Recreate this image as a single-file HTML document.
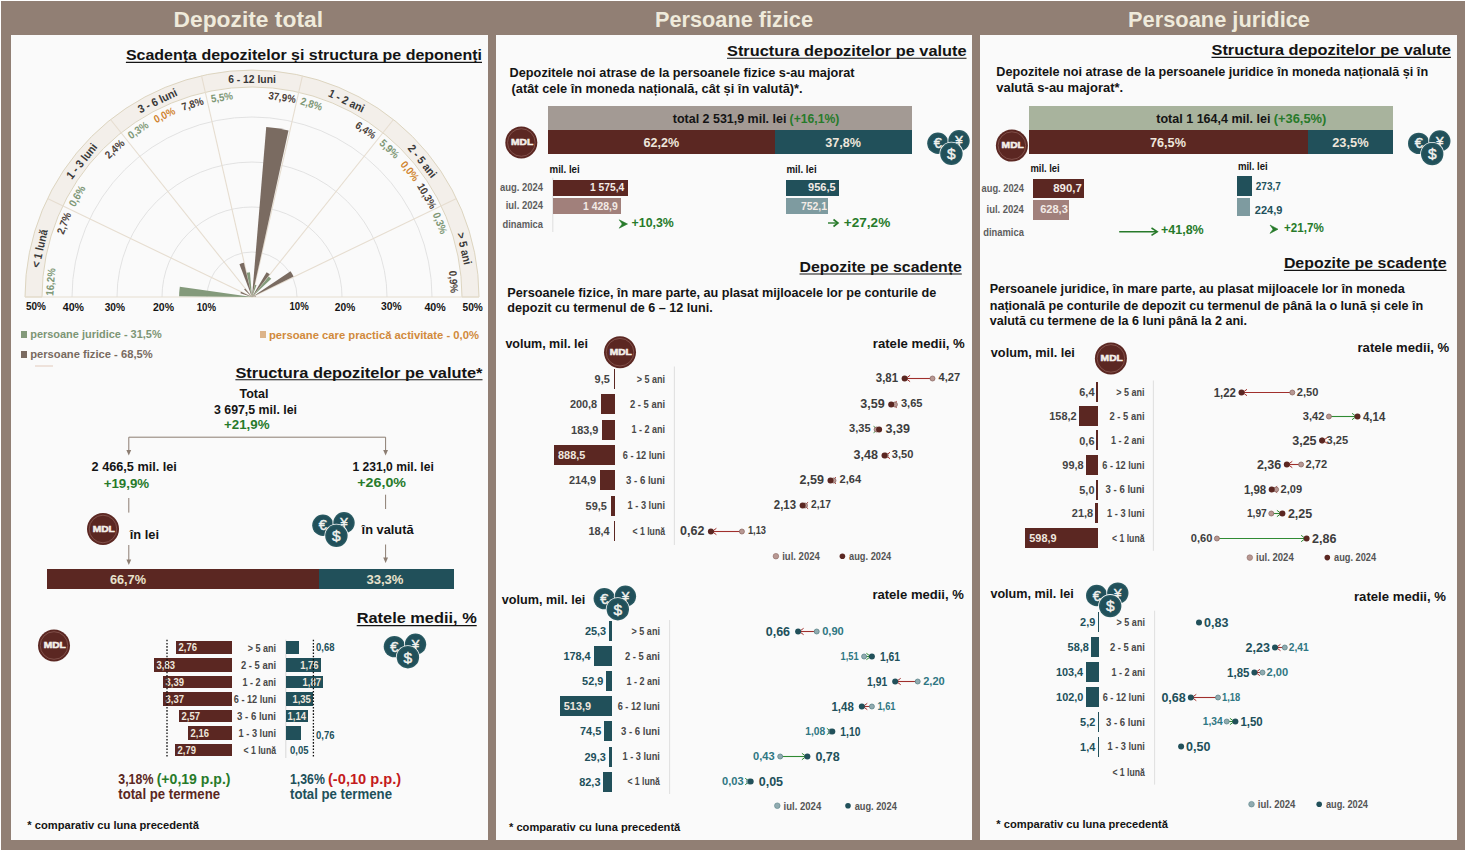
<!DOCTYPE html>
<html><head><meta charset="utf-8"><title>Depozite</title>
<style>html,body{margin:0;padding:0;background:#fff;width:1467px;height:852px;overflow:hidden}svg{display:block}</style>
</head><body>
<svg width="1467" height="852" viewBox="0 0 1467 852" style="font-family:&quot;Liberation Sans&quot;, sans-serif; font-weight:bold">
<rect x="0" y="0" width="1467" height="852" fill="#ffffff" />
<rect x="1" y="1" width="1464" height="849" fill="#917f74" />
<rect x="11" y="35" width="477" height="805" fill="#fafafa" />
<rect x="496" y="35" width="476" height="805" fill="#fafafa" />
<rect x="980" y="35" width="477" height="805" fill="#fafafa" />
<text x="173.5" y="26.7" font-size="22" fill="#efeadb" textLength="149.5" lengthAdjust="spacingAndGlyphs" >Depozite total</text>
<text x="655.0" y="26.7" font-size="22" fill="#efeadb" textLength="158.0" lengthAdjust="spacingAndGlyphs" >Persoane fizice</text>
<text x="1128.0" y="26.7" font-size="22" fill="#efeadb" textLength="182.0" lengthAdjust="spacingAndGlyphs" >Persoane juridice</text>
<text x="125.9" y="60.2" font-size="15.5" fill="#141414" textLength="356.1" lengthAdjust="spacingAndGlyphs" >Scadența depozitelor și structura pe deponenți</text>
<line x1="125.9" y1="62.4" x2="482.0" y2="62.4" stroke="#141414" stroke-width="1.1" />
<path d="M25.0,297.0 A227.0,227.0 0 0 1 479.0,297.0 L462.0,297.0 A210.0,210.0 0 0 0 42.0,297.0 Z" fill="#f3efea" stroke="#ddd5c0" stroke-width="1"/>
<path d="M207.0,297.0 A45,45 0 0 1 297.0,297.0" fill="none" stroke="#dcdcdc" stroke-width="0.8"/>
<path d="M162.0,297.0 A90,90 0 0 1 342.0,297.0" fill="none" stroke="#dcdcdc" stroke-width="0.8"/>
<path d="M117.0,297.0 A135,135 0 0 1 387.0,297.0" fill="none" stroke="#dcdcdc" stroke-width="0.8"/>
<path d="M72.0,297.0 A180,180 0 0 1 432.0,297.0" fill="none" stroke="#dcdcdc" stroke-width="0.8"/>
<line x1="252.0" y1="297.0" x2="47.5" y2="198.5" stroke="#e6ddd0" stroke-width="1.1" />
<line x1="252.0" y1="297.0" x2="110.5" y2="119.5" stroke="#e6ddd0" stroke-width="1.1" />
<line x1="252.0" y1="297.0" x2="201.5" y2="75.7" stroke="#e6ddd0" stroke-width="1.1" />
<line x1="252.0" y1="297.0" x2="302.5" y2="75.7" stroke="#e6ddd0" stroke-width="1.1" />
<line x1="252.0" y1="297.0" x2="393.5" y2="119.5" stroke="#e6ddd0" stroke-width="1.1" />
<line x1="252.0" y1="297.0" x2="456.5" y2="198.5" stroke="#e6ddd0" stroke-width="1.1" />
<line x1="25.0" y1="297.0" x2="479.0" y2="297.0" stroke="#e6ddd0" stroke-width="1.1" />
<path d="M252.0,297.0 L179.10,296.36 A72.90,72.90 0 0 1 179.82,286.76 Z" fill="#849a7b"/>
<path d="M252.0,297.0 L240.42,293.32 A12.15,12.15 0 0 1 241.01,291.82 Z" fill="#7a6b61"/>
<path d="M252.0,297.0 L249.58,295.81 A2.70,2.70 0 0 1 249.76,295.50 Z" fill="#849a7b"/>
<path d="M252.0,297.0 L244.15,289.59 A10.80,10.80 0 0 1 245.19,288.62 Z" fill="#7a6b61"/>
<path d="M252.0,297.0 L251.17,295.94 A1.35,1.35 0 0 1 251.31,295.84 Z" fill="#849a7b"/>
<path d="M252.0,297.0 L239.46,264.22 A35.10,35.10 0 0 1 243.89,262.85 Z" fill="#7a6b61"/>
<path d="M252.0,297.0 L246.70,272.82 A24.75,24.75 0 0 1 249.94,272.34 Z" fill="#849a7b"/>
<path d="M252.0,297.0 L266.23,127.04 A170.55,170.55 0 0 1 288.50,130.40 Z" fill="#7a6b61"/>
<path d="M252.0,297.0 L254.91,284.74 A12.60,12.60 0 0 1 256.50,285.23 Z" fill="#849a7b"/>
<path d="M252.0,297.0 L266.62,272.19 A28.80,28.80 0 0 1 269.76,274.33 Z" fill="#7a6b61"/>
<path d="M252.0,297.0 L268.73,276.39 A26.55,26.55 0 0 1 271.30,278.77 Z" fill="#849a7b"/>
<path d="M252.0,297.0 L290.52,271.23 A46.35,46.35 0 0 1 293.58,276.53 Z" fill="#7a6b61"/>
<path d="M252.0,297.0 L253.22,296.42 A1.35,1.35 0 0 1 253.29,296.59 Z" fill="#849a7b"/>
<path d="M252.0,297.0 L256.01,296.43 A4.05,4.05 0 0 1 256.05,296.96 Z" fill="#7a6b61"/>
<g transform="translate(50.6,281.9) rotate(-85.7)">
<text x="0.0" y="3.7" font-size="10.8" fill="#7f9877" text-anchor="middle" textLength="27.6" lengthAdjust="spacingAndGlyphs" >16,2%</text>
</g>
<g transform="translate(64.0,223.2) rotate(-68.6)">
<text x="0.0" y="3.7" font-size="10.8" fill="#4a4038" text-anchor="middle" textLength="22.2" lengthAdjust="spacingAndGlyphs" >2,7%</text>
</g>
<g transform="translate(77.1,196.0) rotate(-60.0)">
<text x="0.0" y="3.7" font-size="10.8" fill="#7f9877" text-anchor="middle" textLength="22.2" lengthAdjust="spacingAndGlyphs" >0,6%</text>
</g>
<g transform="translate(114.6,148.9) rotate(-42.9)">
<text x="0.0" y="3.7" font-size="10.8" fill="#4a4038" text-anchor="middle" textLength="22.2" lengthAdjust="spacingAndGlyphs" >2,4%</text>
</g>
<g transform="translate(138.2,130.1) rotate(-34.3)">
<text x="0.0" y="3.7" font-size="10.8" fill="#7f9877" text-anchor="middle" textLength="22.2" lengthAdjust="spacingAndGlyphs" >0,3%</text>
</g>
<g transform="translate(164.4,115.0) rotate(-25.7)">
<text x="0.0" y="3.7" font-size="10.8" fill="#d0842f" text-anchor="middle" textLength="22.2" lengthAdjust="spacingAndGlyphs" >0,0%</text>
</g>
<g transform="translate(192.5,104.0) rotate(-17.1)">
<text x="0.0" y="3.7" font-size="10.8" fill="#4a4038" text-anchor="middle" textLength="22.2" lengthAdjust="spacingAndGlyphs" >7,8%</text>
</g>
<g transform="translate(221.9,97.3) rotate(-8.6)">
<text x="0.0" y="3.7" font-size="10.8" fill="#7f9877" text-anchor="middle" textLength="22.2" lengthAdjust="spacingAndGlyphs" >5,5%</text>
</g>
<g transform="translate(282.1,97.3) rotate(8.6)">
<text x="0.0" y="3.7" font-size="10.8" fill="#4a4038" text-anchor="middle" textLength="27.6" lengthAdjust="spacingAndGlyphs" >37,9%</text>
</g>
<g transform="translate(311.5,104.0) rotate(17.1)">
<text x="0.0" y="3.7" font-size="10.8" fill="#7f9877" text-anchor="middle" textLength="22.2" lengthAdjust="spacingAndGlyphs" >2,8%</text>
</g>
<g transform="translate(365.8,130.1) rotate(34.3)">
<text x="0.0" y="3.7" font-size="10.8" fill="#4a4038" text-anchor="middle" textLength="22.2" lengthAdjust="spacingAndGlyphs" >6,4%</text>
</g>
<g transform="translate(389.4,148.9) rotate(42.9)">
<text x="0.0" y="3.7" font-size="10.8" fill="#7f9877" text-anchor="middle" textLength="22.2" lengthAdjust="spacingAndGlyphs" >5,9%</text>
</g>
<g transform="translate(409.9,171.1) rotate(51.4)">
<text x="0.0" y="3.7" font-size="10.8" fill="#d0842f" text-anchor="middle" textLength="22.2" lengthAdjust="spacingAndGlyphs" >0,0%</text>
</g>
<g transform="translate(426.9,196.0) rotate(60.0)">
<text x="0.0" y="3.7" font-size="10.8" fill="#4a4038" text-anchor="middle" textLength="27.6" lengthAdjust="spacingAndGlyphs" >10,3%</text>
</g>
<g transform="translate(440.0,223.2) rotate(68.6)">
<text x="0.0" y="3.7" font-size="10.8" fill="#7f9877" text-anchor="middle" textLength="22.2" lengthAdjust="spacingAndGlyphs" >0,3%</text>
</g>
<g transform="translate(453.4,281.9) rotate(85.7)">
<text x="0.0" y="3.7" font-size="10.8" fill="#4a4038" text-anchor="middle" textLength="22.2" lengthAdjust="spacingAndGlyphs" >0,9%</text>
</g>
<g transform="translate(39.5,248.5) rotate(-77.1)">
<text x="0.0" y="4.1" font-size="11.5" fill="#383838" text-anchor="middle" textLength="38.8" lengthAdjust="spacingAndGlyphs" >&lt; 1 lună</text>
</g>
<g transform="translate(81.6,161.1) rotate(-51.4)">
<text x="0.0" y="4.1" font-size="11.5" fill="#383838" text-anchor="middle" textLength="42.0" lengthAdjust="spacingAndGlyphs" >1 - 3 luni</text>
</g>
<g transform="translate(157.4,100.6) rotate(-25.7)">
<text x="0.0" y="4.1" font-size="11.5" fill="#383838" text-anchor="middle" textLength="42.0" lengthAdjust="spacingAndGlyphs" >3 - 6 luni</text>
</g>
<g transform="translate(252.0,79.0) rotate(0.0)">
<text x="0.0" y="4.1" font-size="11.5" fill="#383838" text-anchor="middle" textLength="47.7" lengthAdjust="spacingAndGlyphs" >6 - 12 luni</text>
</g>
<g transform="translate(346.6,100.6) rotate(25.7)">
<text x="0.0" y="4.1" font-size="11.5" fill="#383838" text-anchor="middle" textLength="38.5" lengthAdjust="spacingAndGlyphs" >1 - 2 ani</text>
</g>
<g transform="translate(422.4,161.1) rotate(51.4)">
<text x="0.0" y="4.1" font-size="11.5" fill="#383838" text-anchor="middle" textLength="38.5" lengthAdjust="spacingAndGlyphs" >2 - 5 ani</text>
</g>
<g transform="translate(464.5,248.5) rotate(77.1)">
<text x="0.0" y="4.1" font-size="11.5" fill="#383838" text-anchor="middle" textLength="32.5" lengthAdjust="spacingAndGlyphs" >&gt; 5 ani</text>
</g>
<text x="26.0" y="310.0" font-size="10" fill="#141414" textLength="20.0" lengthAdjust="spacingAndGlyphs" >50%</text>
<text x="62.8" y="310.8" font-size="10" fill="#141414" textLength="21.2" lengthAdjust="spacingAndGlyphs" >40%</text>
<text x="104.7" y="310.8" font-size="10" fill="#141414" textLength="20.3" lengthAdjust="spacingAndGlyphs" >30%</text>
<text x="153.0" y="310.8" font-size="10" fill="#141414" textLength="21.0" lengthAdjust="spacingAndGlyphs" >20%</text>
<text x="196.7" y="310.8" font-size="10" fill="#141414" textLength="19.3" lengthAdjust="spacingAndGlyphs" >10%</text>
<text x="289.5" y="309.8" font-size="10" fill="#141414" textLength="19.2" lengthAdjust="spacingAndGlyphs" >10%</text>
<text x="334.8" y="310.8" font-size="10" fill="#141414" textLength="20.4" lengthAdjust="spacingAndGlyphs" >20%</text>
<text x="381.0" y="309.8" font-size="10" fill="#141414" textLength="20.6" lengthAdjust="spacingAndGlyphs" >30%</text>
<text x="424.4" y="310.8" font-size="10" fill="#141414" textLength="21.3" lengthAdjust="spacingAndGlyphs" >40%</text>
<text x="462.6" y="310.8" font-size="10" fill="#141414" textLength="20.3" lengthAdjust="spacingAndGlyphs" >50%</text>
<rect x="21" y="331" width="6" height="7" fill="#849a7b" />
<text x="30.2" y="337.7" font-size="11" fill="#7d9575" textLength="131.5" lengthAdjust="spacingAndGlyphs" >persoane juridice - 31,5%</text>
<rect x="260" y="331" width="6" height="7" fill="#dcb48a" />
<text x="269.0" y="338.5" font-size="11" fill="#d18a3c" textLength="210.0" lengthAdjust="spacingAndGlyphs" >persoane care practică activitate - 0,0%</text>
<rect x="21" y="351" width="6" height="7" fill="#7a6b61" />
<text x="30.2" y="357.7" font-size="11" fill="#786a60" textLength="122.5" lengthAdjust="spacingAndGlyphs" >persoane fizice - 68,5%</text>
<text x="235.4" y="377.6" font-size="15.5" fill="#141414" textLength="247.1" lengthAdjust="spacingAndGlyphs" >Structura depozitelor pe valute*</text>
<line x1="235.4" y1="379.8" x2="482.5" y2="379.8" stroke="#141414" stroke-width="1.1" />
<text x="254.0" y="398.0" font-size="12.5" fill="#141414" text-anchor="middle" >Total</text>
<text x="214.0" y="414.0" font-size="12.5" fill="#141414" textLength="83.0" lengthAdjust="spacingAndGlyphs" >3 697,5 mil. lei</text>
<text x="224.0" y="428.7" font-size="13" fill="#277a2a" textLength="45.5" lengthAdjust="spacingAndGlyphs" >+21,9%</text>
<path d="M128.8,451 V437.2 H385.6 V451" fill="none" stroke="#8c7d72" stroke-width="1"/>
<path d="M126.4,450 L128.8,455.5 L131.20000000000002,450 Z" fill="#8c7d72"/>
<path d="M383.20000000000005,450 L385.6,455.5 L388.0,450 Z" fill="#8c7d72"/>
<text x="91.6" y="471.0" font-size="12.5" fill="#141414" textLength="85.3" lengthAdjust="spacingAndGlyphs" >2 466,5 mil. lei</text>
<text x="103.7" y="488.0" font-size="13" fill="#277a2a" textLength="45.5" lengthAdjust="spacingAndGlyphs" >+19,9%</text>
<text x="352.5" y="470.6" font-size="12.5" fill="#141414" textLength="81.3" lengthAdjust="spacingAndGlyphs" >1 231,0 mil. lei</text>
<text x="357.3" y="486.6" font-size="13" fill="#277a2a" textLength="48.7" lengthAdjust="spacingAndGlyphs" >+26,0%</text>
<line x1="128.8" y1="498.0" x2="128.8" y2="512.6" stroke="#8c7d72" stroke-width="1" />
<line x1="385.6" y1="494.7" x2="385.6" y2="509.0" stroke="#8c7d72" stroke-width="1" />
<circle cx="103" cy="529" r="16" fill="#5b2722"/>
<circle cx="103" cy="529" r="13.8" fill="none" stroke="#8a5a54" stroke-width="0.8"/>
<text x="103.8" y="531.6" font-size="9.8" fill="#f4f0ea" text-anchor="middle" textLength="22.2" lengthAdjust="spacingAndGlyphs" stroke="#f4f0ea" stroke-width="0.55">MDL</text>
<text x="129.7" y="538.6" font-size="12.5" fill="#141414" textLength="29.3" lengthAdjust="spacingAndGlyphs" >în lei</text>
<circle cx="322.9" cy="525.2" r="11.5" fill="#fafafa"/>
<circle cx="322.9" cy="525.2" r="10.7" fill="#2a5a62"/>
<circle cx="322.9" cy="525.2" r="9.4" fill="#21505a"/>
<text x="322.9" y="530.2" font-size="14.5" fill="#f2f2ee" text-anchor="middle" font-weight="normal" stroke="#f2f2ee" stroke-width="0.45">€</text>
<circle cx="344.0" cy="522.8" r="11.5" fill="#fafafa"/>
<circle cx="344.0" cy="522.8" r="10.7" fill="#2a5a62"/>
<circle cx="344.0" cy="522.8" r="9.4" fill="#21505a"/>
<text x="344.0" y="527.4" font-size="13.5" fill="#f2f2ee" text-anchor="middle" font-weight="normal" stroke="#f2f2ee" stroke-width="0.45">¥</text>
<circle cx="336.4" cy="535.8" r="12.0" fill="#fafafa"/>
<circle cx="336.4" cy="535.8" r="11.2" fill="#2a5a62"/>
<circle cx="336.4" cy="535.8" r="9.9" fill="#21505a"/>
<text x="336.4" y="541.1" font-size="15.5" fill="#f2f2ee" text-anchor="middle" font-weight="normal" stroke="#f2f2ee" stroke-width="0.45">$</text>
<text x="361.6" y="533.7" font-size="12.5" fill="#141414" textLength="52.0" lengthAdjust="spacingAndGlyphs" >în valută</text>
<line x1="128.8" y1="545.0" x2="128.8" y2="561.0" stroke="#8c7d72" stroke-width="1" />
<path d="M126.4,559.5 L128.8,565.0 L131.2,559.5 Z" fill="#8c7d72"/>
<line x1="385.6" y1="544.5" x2="385.6" y2="559.0" stroke="#8c7d72" stroke-width="1" />
<path d="M383.2,557.5 L385.6,563.0 L388.0,557.5 Z" fill="#8c7d72"/>
<rect x="47" y="569" width="272" height="20" fill="#5b2722" />
<rect x="319" y="569" width="135" height="20" fill="#21505a" />
<text x="109.9" y="584.0" font-size="12.5" fill="#e9e2cc" textLength="36.1" lengthAdjust="spacingAndGlyphs" >66,7%</text>
<text x="366.4" y="584.0" font-size="12.5" fill="#e9e2cc" textLength="37.1" lengthAdjust="spacingAndGlyphs" >33,3%</text>
<text x="356.7" y="623.4" font-size="15.5" fill="#141414" textLength="120.0" lengthAdjust="spacingAndGlyphs" >Ratele medii, %</text>
<line x1="356.7" y1="625.6" x2="476.7" y2="625.6" stroke="#141414" stroke-width="1.1" />
<circle cx="54" cy="645.5" r="16" fill="#5b2722"/>
<circle cx="54" cy="645.5" r="13.8" fill="none" stroke="#8a5a54" stroke-width="0.8"/>
<text x="54.8" y="648.1" font-size="9.8" fill="#f4f0ea" text-anchor="middle" textLength="22.2" lengthAdjust="spacingAndGlyphs" stroke="#f4f0ea" stroke-width="0.55">MDL</text>
<circle cx="394.4" cy="646.6" r="11.5" fill="#fafafa"/>
<circle cx="394.4" cy="646.6" r="10.7" fill="#2a5a62"/>
<circle cx="394.4" cy="646.6" r="9.4" fill="#21505a"/>
<text x="394.4" y="651.6" font-size="14.5" fill="#f2f2ee" text-anchor="middle" font-weight="normal" stroke="#f2f2ee" stroke-width="0.45">€</text>
<circle cx="415.5" cy="644.2" r="11.5" fill="#fafafa"/>
<circle cx="415.5" cy="644.2" r="10.7" fill="#2a5a62"/>
<circle cx="415.5" cy="644.2" r="9.4" fill="#21505a"/>
<text x="415.5" y="648.8" font-size="13.5" fill="#f2f2ee" text-anchor="middle" font-weight="normal" stroke="#f2f2ee" stroke-width="0.45">¥</text>
<circle cx="407.9" cy="657.2" r="12.0" fill="#fafafa"/>
<circle cx="407.9" cy="657.2" r="11.2" fill="#2a5a62"/>
<circle cx="407.9" cy="657.2" r="9.9" fill="#21505a"/>
<text x="407.9" y="662.5" font-size="15.5" fill="#f2f2ee" text-anchor="middle" font-weight="normal" stroke="#f2f2ee" stroke-width="0.45">$</text>
<line x1="285.8" y1="639.7" x2="285.8" y2="758.0" stroke="#cfcfcf" stroke-width="0.8" />
<rect x="176" y="641" width="56" height="13" fill="#5b2722" />
<text x="178.5" y="651.4" font-size="10.5" fill="#eee6dc" textLength="18.4" lengthAdjust="spacingAndGlyphs" >2,76</text>
<rect x="286" y="641" width="13" height="13" fill="#21505a" />
<text x="316.0" y="651.4" font-size="10.5" fill="#21505a" textLength="18.4" lengthAdjust="spacingAndGlyphs" >0,68</text>
<rect x="154" y="658" width="78" height="14" fill="#5b2722" />
<text x="156.5" y="668.6" font-size="10.5" fill="#eee6dc" textLength="18.4" lengthAdjust="spacingAndGlyphs" >3,83</text>
<rect x="286" y="658" width="35" height="14" fill="#21505a" />
<text x="318.6" y="668.6" font-size="10.5" fill="#eee6dc" text-anchor="end" textLength="18.4" lengthAdjust="spacingAndGlyphs" >1,76</text>
<rect x="163" y="676" width="69" height="12" fill="#5b2722" />
<text x="165.5" y="685.6" font-size="10.5" fill="#eee6dc" textLength="18.4" lengthAdjust="spacingAndGlyphs" >3,39</text>
<rect x="286" y="676" width="37" height="12" fill="#21505a" />
<text x="321.0" y="685.6" font-size="10.5" fill="#eee6dc" text-anchor="end" textLength="18.4" lengthAdjust="spacingAndGlyphs" >1,87</text>
<rect x="163" y="692" width="69" height="14" fill="#5b2722" />
<text x="165.5" y="702.6" font-size="10.5" fill="#eee6dc" textLength="18.4" lengthAdjust="spacingAndGlyphs" >3,37</text>
<rect x="286" y="692" width="27" height="14" fill="#21505a" />
<text x="310.8" y="702.6" font-size="10.5" fill="#eee6dc" text-anchor="end" textLength="18.4" lengthAdjust="spacingAndGlyphs" >1,35</text>
<rect x="179" y="710" width="53" height="12" fill="#5b2722" />
<text x="181.5" y="719.6" font-size="10.5" fill="#eee6dc" textLength="18.4" lengthAdjust="spacingAndGlyphs" >2,57</text>
<rect x="286" y="710" width="22" height="12" fill="#21505a" />
<text x="306.0" y="719.6" font-size="10.5" fill="#eee6dc" text-anchor="end" textLength="18.4" lengthAdjust="spacingAndGlyphs" >1,14</text>
<rect x="188" y="726" width="44" height="14" fill="#5b2722" />
<text x="190.5" y="736.6" font-size="10.5" fill="#eee6dc" textLength="18.4" lengthAdjust="spacingAndGlyphs" >2,16</text>
<rect x="286" y="726" width="15" height="14" fill="#21505a" />
<text x="316.0" y="738.5" font-size="10.5" fill="#21505a" textLength="18.4" lengthAdjust="spacingAndGlyphs" >0,76</text>
<rect x="175" y="744" width="57" height="12" fill="#5b2722" />
<text x="177.5" y="753.6" font-size="10.5" fill="#eee6dc" textLength="18.4" lengthAdjust="spacingAndGlyphs" >2,79</text>
<text x="290.0" y="753.6" font-size="10.5" fill="#21505a" textLength="18.4" lengthAdjust="spacingAndGlyphs" >0,05</text>
<text x="247.7" y="651.5" font-size="10.5" fill="#484848" textLength="28.3" lengthAdjust="spacingAndGlyphs" >&gt; 5 ani</text>
<text x="241.0" y="668.7" font-size="10.5" fill="#484848" textLength="35.0" lengthAdjust="spacingAndGlyphs" >2 - 5 ani</text>
<text x="242.5" y="685.7" font-size="10.5" fill="#484848" textLength="33.5" lengthAdjust="spacingAndGlyphs" >1 - 2 ani</text>
<text x="233.8" y="702.7" font-size="10.5" fill="#484848" textLength="42.2" lengthAdjust="spacingAndGlyphs" >6 - 12 luni</text>
<text x="237.0" y="719.7" font-size="10.5" fill="#484848" textLength="39.0" lengthAdjust="spacingAndGlyphs" >3 - 6 luni</text>
<text x="238.6" y="736.7" font-size="10.5" fill="#484848" textLength="37.4" lengthAdjust="spacingAndGlyphs" >1 - 3 luni</text>
<text x="243.5" y="753.7" font-size="10.5" fill="#484848" textLength="32.5" lengthAdjust="spacingAndGlyphs" >&lt; 1 lună</text>
<line x1="167.0" y1="639.7" x2="167.0" y2="758.0" stroke="#111" stroke-width="1.3" stroke-dasharray="1.6,1.6"/>
<line x1="313.4" y1="639.7" x2="313.4" y2="758.0" stroke="#111" stroke-width="1.3" stroke-dasharray="1.6,1.6"/>
<text x="118.3" y="783.7" font-size="15" fill="#5b2722" textLength="35.1" lengthAdjust="spacingAndGlyphs" >3,18%</text>
<text x="156.7" y="783.7" font-size="15" fill="#277a2a" textLength="73.8" lengthAdjust="spacingAndGlyphs" >(+0,19 p.p.)</text>
<text x="118.3" y="799.0" font-size="14" fill="#5b2722" textLength="101.7" lengthAdjust="spacingAndGlyphs" >total pe termene</text>
<text x="290.0" y="783.7" font-size="15" fill="#21505a" textLength="34.8" lengthAdjust="spacingAndGlyphs" >1,36%</text>
<text x="328.0" y="783.7" font-size="15" fill="#c41a20" textLength="73.2" lengthAdjust="spacingAndGlyphs" >(-0,10 p.p.)</text>
<text x="290.0" y="799.0" font-size="14" fill="#21505a" textLength="102.0" lengthAdjust="spacingAndGlyphs" >total pe termene</text>
<text x="27.3" y="829.0" font-size="11.5" fill="#141414" textLength="171.7" lengthAdjust="spacingAndGlyphs" >* comparativ cu luna precedentă</text>
<rect x="35" y="365" width="18" height="2" fill="#eee2db" />
<text x="727.0" y="56.0" font-size="15.5" fill="#141414" textLength="239.5" lengthAdjust="spacingAndGlyphs" >Structura depozitelor pe valute</text>
<line x1="727.0" y1="58.2" x2="966.5" y2="58.2" stroke="#141414" stroke-width="1.1" />
<text x="509.6" y="76.5" font-size="12.3" fill="#141414" textLength="344.9" lengthAdjust="spacingAndGlyphs" >Depozitele noi atrase de la persoanele fizice s-au majorat</text>
<text x="511.6" y="92.8" font-size="12.3" fill="#141414" textLength="291.0" lengthAdjust="spacingAndGlyphs" > (atât cele în moneda națională, cât și în valută)*.</text>
<rect x="548" y="106" width="364" height="24" fill="#a39a94" />
<text x="672.8" y="122.6" font-size="12.5" fill="#141414" textLength="113.6" lengthAdjust="spacingAndGlyphs" >total 2 531,9 mil. lei</text>
<text x="789.6" y="122.6" font-size="12.5" fill="#277a2a" textLength="49.7" lengthAdjust="spacingAndGlyphs" >(+16,1%)</text>
<rect x="548" y="130" width="227" height="24" fill="#5b2722" />
<rect x="775" y="130" width="137" height="24" fill="#21505a" />
<text x="643.6" y="146.5" font-size="13" fill="#eee6dc" textLength="35.7" lengthAdjust="spacingAndGlyphs" >62,2%</text>
<text x="825.3" y="146.5" font-size="13" fill="#eee6dc" textLength="35.7" lengthAdjust="spacingAndGlyphs" >37,8%</text>
<circle cx="521.3" cy="142.5" r="16" fill="#5b2722"/>
<circle cx="521.3" cy="142.5" r="13.8" fill="none" stroke="#8a5a54" stroke-width="0.8"/>
<text x="522.1" y="145.1" font-size="9.8" fill="#f4f0ea" text-anchor="middle" textLength="22.2" lengthAdjust="spacingAndGlyphs" stroke="#f4f0ea" stroke-width="0.55">MDL</text>
<circle cx="937.9" cy="143.2" r="11.5" fill="#fafafa"/>
<circle cx="937.9" cy="143.2" r="10.7" fill="#2a5a62"/>
<circle cx="937.9" cy="143.2" r="9.4" fill="#21505a"/>
<text x="937.9" y="148.2" font-size="14.5" fill="#f2f2ee" text-anchor="middle" font-weight="normal" stroke="#f2f2ee" stroke-width="0.45">€</text>
<circle cx="959.0" cy="140.8" r="11.5" fill="#fafafa"/>
<circle cx="959.0" cy="140.8" r="10.7" fill="#2a5a62"/>
<circle cx="959.0" cy="140.8" r="9.4" fill="#21505a"/>
<text x="959.0" y="145.4" font-size="13.5" fill="#f2f2ee" text-anchor="middle" font-weight="normal" stroke="#f2f2ee" stroke-width="0.45">¥</text>
<circle cx="951.4" cy="153.8" r="12.0" fill="#fafafa"/>
<circle cx="951.4" cy="153.8" r="11.2" fill="#2a5a62"/>
<circle cx="951.4" cy="153.8" r="9.9" fill="#21505a"/>
<text x="951.4" y="159.1" font-size="15.5" fill="#f2f2ee" text-anchor="middle" font-weight="normal" stroke="#f2f2ee" stroke-width="0.45">$</text>
<text x="549.5" y="172.7" font-size="10.5" fill="#141414" textLength="30.2" lengthAdjust="spacingAndGlyphs" >mil. lei</text>
<text x="786.4" y="172.7" font-size="10.5" fill="#141414" textLength="30.2" lengthAdjust="spacingAndGlyphs" >mil. lei</text>
<text x="543.0" y="190.8" font-size="10.5" fill="#5e5e5e" text-anchor="end" textLength="43.0" lengthAdjust="spacingAndGlyphs" >aug. 2024</text>
<text x="543.0" y="208.6" font-size="10.5" fill="#5e5e5e" text-anchor="end" textLength="37.3" lengthAdjust="spacingAndGlyphs" >iul. 2024</text>
<text x="543.0" y="228.2" font-size="10.5" fill="#5e5e5e" text-anchor="end" textLength="40.5" lengthAdjust="spacingAndGlyphs" >dinamica</text>
<line x1="552.8" y1="177.8" x2="552.8" y2="232.0" stroke="#d8d8d8" stroke-width="0.8" />
<rect x="553" y="180" width="75" height="16" fill="#5b2722" />
<rect x="553" y="198" width="68" height="16" fill="#a1807b" />
<text x="624.2" y="190.5" font-size="11" fill="#f3ebe6" text-anchor="end" textLength="34.2" lengthAdjust="spacingAndGlyphs" >1 575,4</text>
<text x="617.7" y="209.5" font-size="11" fill="#f3ebe6" text-anchor="end" textLength="34.7" lengthAdjust="spacingAndGlyphs" >1 428,9</text>
<path d="M619.2,219.8 L627.5,224 L619.2,228.2 L622.2,224 Z" fill="#277a2a" stroke="#277a2a" stroke-width="0.6" stroke-linejoin="round"/>
<text x="631.6" y="227.0" font-size="13" fill="#277a2a" textLength="42.2" lengthAdjust="spacingAndGlyphs" >+10,3%</text>
<rect x="786" y="180" width="53" height="16" fill="#21505a" />
<rect x="786" y="198" width="42" height="16" fill="#7e9ba0" />
<text x="835.7" y="190.5" font-size="11" fill="#f3ebe6" text-anchor="end" textLength="27.6" lengthAdjust="spacingAndGlyphs" >956,5</text>
<text x="827.0" y="209.5" font-size="11" fill="#f3ebe6" text-anchor="end" textLength="26.0" lengthAdjust="spacingAndGlyphs" >752,1</text>
<line x1="828.0" y1="223.0" x2="837.0" y2="223.0" stroke="#277a2a" stroke-width="1.4" />
<path d="M833.5,219.5 L838,223 L833.5,226.5" fill="none" stroke="#277a2a" stroke-width="1.6"/>
<text x="843.8" y="227.0" font-size="13" fill="#277a2a" textLength="46.4" lengthAdjust="spacingAndGlyphs" >+27,2%</text>
<text x="799.5" y="271.8" font-size="15.5" fill="#141414" textLength="162.3" lengthAdjust="spacingAndGlyphs" >Depozite pe scadențe</text>
<line x1="799.5" y1="274.0" x2="961.8" y2="274.0" stroke="#141414" stroke-width="1.1" />
<text x="507.3" y="297.0" font-size="12.3" fill="#141414" textLength="429.0" lengthAdjust="spacingAndGlyphs" >Persoanele fizice, în mare parte, au plasat mijloacele lor pe conturile de</text>
<text x="507.3" y="312.0" font-size="12.3" fill="#141414" textLength="205.5" lengthAdjust="spacingAndGlyphs" >depozit cu termenul de 6 – 12 luni.</text>
<text x="505.4" y="348.4" font-size="12.3" fill="#141414" textLength="82.6" lengthAdjust="spacingAndGlyphs" >volum, mil. lei</text>
<circle cx="620" cy="352.2" r="16" fill="#5b2722"/>
<circle cx="620" cy="352.2" r="13.8" fill="none" stroke="#8a5a54" stroke-width="0.8"/>
<text x="620.8" y="354.8" font-size="9.8" fill="#f4f0ea" text-anchor="middle" textLength="22.2" lengthAdjust="spacingAndGlyphs" stroke="#f4f0ea" stroke-width="0.55">MDL</text>
<text x="964.8" y="348.0" font-size="12.3" fill="#141414" text-anchor="end" textLength="92.0" lengthAdjust="spacingAndGlyphs" >ratele medii, %</text>
<line x1="674.4" y1="366.5" x2="674.4" y2="545.0" stroke="#d8d8d8" stroke-width="0.8" />
<rect x="614" y="369" width="1" height="20" fill="#5b2722" />
<text x="609.8" y="382.8" font-size="11.5" fill="#444" text-anchor="end" textLength="15.2" lengthAdjust="spacingAndGlyphs" >9,5</text>
<rect x="601" y="394" width="14" height="20" fill="#5b2722" />
<text x="597.2" y="408.0" font-size="11.5" fill="#444" text-anchor="end" textLength="27.3" lengthAdjust="spacingAndGlyphs" >200,8</text>
<rect x="602" y="420" width="13" height="20" fill="#5b2722" />
<text x="598.4" y="433.6" font-size="11.5" fill="#444" text-anchor="end" textLength="27.3" lengthAdjust="spacingAndGlyphs" >183,9</text>
<rect x="554" y="445" width="61" height="20" fill="#5b2722" />
<text x="558.0" y="459.0" font-size="11.5" fill="#efe6df" textLength="27.3" lengthAdjust="spacingAndGlyphs" >888,5</text>
<rect x="600" y="470" width="15" height="20" fill="#5b2722" />
<text x="596.2" y="484.2" font-size="11.5" fill="#444" text-anchor="end" textLength="27.3" lengthAdjust="spacingAndGlyphs" >214,9</text>
<rect x="611" y="496" width="4" height="20" fill="#5b2722" />
<text x="606.9" y="509.6" font-size="11.5" fill="#444" text-anchor="end" textLength="21.3" lengthAdjust="spacingAndGlyphs" >59,5</text>
<rect x="614" y="521" width="1" height="20" fill="#5b2722" />
<text x="609.7" y="535.0" font-size="11.5" fill="#444" text-anchor="end" textLength="21.3" lengthAdjust="spacingAndGlyphs" >18,4</text>
<text x="636.7" y="382.5" font-size="10.5" fill="#484848" textLength="28.3" lengthAdjust="spacingAndGlyphs" >&gt; 5 ani</text>
<text x="630.0" y="407.7" font-size="10.5" fill="#484848" textLength="35.0" lengthAdjust="spacingAndGlyphs" >2 - 5 ani</text>
<text x="631.5" y="433.3" font-size="10.5" fill="#484848" textLength="33.5" lengthAdjust="spacingAndGlyphs" >1 - 2 ani</text>
<text x="622.8" y="458.7" font-size="10.5" fill="#484848" textLength="42.2" lengthAdjust="spacingAndGlyphs" >6 - 12 luni</text>
<text x="626.0" y="483.9" font-size="10.5" fill="#484848" textLength="39.0" lengthAdjust="spacingAndGlyphs" >3 - 6 luni</text>
<text x="627.6" y="509.3" font-size="10.5" fill="#484848" textLength="37.4" lengthAdjust="spacingAndGlyphs" >1 - 3 luni</text>
<text x="632.5" y="534.7" font-size="10.5" fill="#484848" textLength="32.5" lengthAdjust="spacingAndGlyphs" >&lt; 1 lună</text>
<line x1="904.6" y1="378.5" x2="932.5" y2="378.5" stroke="#a02f2c" stroke-width="1.1" />
<path d="M910.1,375.3 L905.8,378.5 L910.1,381.7" fill="none" stroke="#a02f2c" stroke-width="1"/>
<circle cx="932.5" cy="378.5" r="2.5" fill="#b89893" stroke="#8d6964" stroke-width="0.8"/>
<circle cx="904.6" cy="378.5" r="3.0" fill="#5b2722"/>
<text x="898.1" y="381.6" font-size="12.8" fill="#3d3d3d" text-anchor="end" textLength="22.3" lengthAdjust="spacingAndGlyphs" >3,81</text>
<text x="938.5" y="380.9" font-size="10.8" fill="#3d3d3d" textLength="21.6" lengthAdjust="spacingAndGlyphs" >4,27</text>
<line x1="891.2" y1="404.5" x2="894.9" y2="404.5" stroke="#a02f2c" stroke-width="1.1" />
<path d="M896.7,401.3 L892.4,404.5 L896.7,407.7" fill="none" stroke="#a02f2c" stroke-width="1"/>
<circle cx="894.9" cy="404.5" r="2.5" fill="#b89893" stroke="#8d6964" stroke-width="0.8"/>
<circle cx="891.2" cy="404.5" r="3.0" fill="#5b2722"/>
<text x="884.7" y="407.6" font-size="12.8" fill="#3d3d3d" text-anchor="end" textLength="24.4" lengthAdjust="spacingAndGlyphs" >3,59</text>
<text x="900.9" y="406.9" font-size="10.8" fill="#3d3d3d" textLength="21.6" lengthAdjust="spacingAndGlyphs" >3,65</text>
<line x1="879.1" y1="429.5" x2="876.6" y2="429.5" stroke="#2f8a33" stroke-width="1.1" />
<path d="M873.6,426.3 L877.9,429.5 L873.6,432.7" fill="none" stroke="#2f8a33" stroke-width="1"/>
<circle cx="876.6" cy="429.5" r="2.5" fill="#b89893" stroke="#8d6964" stroke-width="0.8"/>
<circle cx="879.1" cy="429.5" r="3.0" fill="#5b2722"/>
<text x="885.6" y="432.6" font-size="12.8" fill="#3d3d3d" textLength="24.4" lengthAdjust="spacingAndGlyphs" >3,39</text>
<text x="870.6" y="431.9" font-size="10.8" fill="#3d3d3d" text-anchor="end" textLength="21.6" lengthAdjust="spacingAndGlyphs" >3,35</text>
<line x1="884.5" y1="455.5" x2="885.8" y2="455.5" stroke="#a02f2c" stroke-width="1.1" />
<path d="M890.0,452.3 L885.7,455.5 L890.0,458.7" fill="none" stroke="#a02f2c" stroke-width="1"/>
<circle cx="885.8" cy="455.5" r="2.5" fill="#b89893" stroke="#8d6964" stroke-width="0.8"/>
<circle cx="884.5" cy="455.5" r="3.0" fill="#5b2722"/>
<text x="878.0" y="458.6" font-size="12.8" fill="#3d3d3d" text-anchor="end" textLength="24.4" lengthAdjust="spacingAndGlyphs" >3,48</text>
<text x="891.8" y="457.9" font-size="10.8" fill="#3d3d3d" textLength="21.6" lengthAdjust="spacingAndGlyphs" >3,50</text>
<line x1="830.5" y1="480.5" x2="833.5" y2="480.5" stroke="#a02f2c" stroke-width="1.1" />
<path d="M836.0,477.3 L831.7,480.5 L836.0,483.7" fill="none" stroke="#a02f2c" stroke-width="1"/>
<circle cx="833.5" cy="480.5" r="2.5" fill="#b89893" stroke="#8d6964" stroke-width="0.8"/>
<circle cx="830.5" cy="480.5" r="3.0" fill="#5b2722"/>
<text x="824.0" y="483.6" font-size="12.8" fill="#3d3d3d" text-anchor="end" textLength="24.4" lengthAdjust="spacingAndGlyphs" >2,59</text>
<text x="839.5" y="482.9" font-size="10.8" fill="#3d3d3d" textLength="21.6" lengthAdjust="spacingAndGlyphs" >2,64</text>
<line x1="802.6" y1="505.5" x2="805.0" y2="505.5" stroke="#a02f2c" stroke-width="1.1" />
<path d="M808.1,502.3 L803.8,505.5 L808.1,508.7" fill="none" stroke="#a02f2c" stroke-width="1"/>
<circle cx="805.0" cy="505.5" r="2.5" fill="#b89893" stroke="#8d6964" stroke-width="0.8"/>
<circle cx="802.6" cy="505.5" r="3.0" fill="#5b2722"/>
<text x="796.1" y="508.6" font-size="12.8" fill="#3d3d3d" text-anchor="end" textLength="22.3" lengthAdjust="spacingAndGlyphs" >2,13</text>
<text x="811.0" y="507.9" font-size="10.8" fill="#3d3d3d" textLength="19.9" lengthAdjust="spacingAndGlyphs" >2,17</text>
<line x1="710.9" y1="531.5" x2="741.9" y2="531.5" stroke="#a02f2c" stroke-width="1.1" />
<path d="M716.4,528.3 L712.1,531.5 L716.4,534.7" fill="none" stroke="#a02f2c" stroke-width="1"/>
<circle cx="741.9" cy="531.5" r="2.5" fill="#b89893" stroke="#8d6964" stroke-width="0.8"/>
<circle cx="710.9" cy="531.5" r="3.0" fill="#5b2722"/>
<text x="704.4" y="534.6" font-size="12.8" fill="#3d3d3d" text-anchor="end" textLength="24.4" lengthAdjust="spacingAndGlyphs" >0,62</text>
<text x="747.9" y="533.9" font-size="10.8" fill="#3d3d3d" textLength="18.1" lengthAdjust="spacingAndGlyphs" >1,13</text>
<circle cx="775.9" cy="556.2" r="2.8" fill="#b89893" stroke="#8d6964" stroke-width="0.6"/>
<text x="782.2" y="560.0" font-size="10.5" fill="#555" textLength="37.6" lengthAdjust="spacingAndGlyphs" >iul. 2024</text>
<circle cx="842.4" cy="556.2" r="2.8" fill="#5b2722"/>
<text x="849.1" y="560.0" font-size="10.5" fill="#555" textLength="42.1" lengthAdjust="spacingAndGlyphs" >aug. 2024</text>
<text x="501.8" y="604.0" font-size="12.3" fill="#141414" textLength="83.4" lengthAdjust="spacingAndGlyphs" >volum, mil. lei</text>
<circle cx="604.3" cy="598.6" r="11.5" fill="#fafafa"/>
<circle cx="604.3" cy="598.6" r="10.7" fill="#2a5a62"/>
<circle cx="604.3" cy="598.6" r="9.4" fill="#21505a"/>
<text x="604.3" y="603.6" font-size="14.5" fill="#f2f2ee" text-anchor="middle" font-weight="normal" stroke="#f2f2ee" stroke-width="0.45">€</text>
<circle cx="625.4" cy="596.2" r="11.5" fill="#fafafa"/>
<circle cx="625.4" cy="596.2" r="10.7" fill="#2a5a62"/>
<circle cx="625.4" cy="596.2" r="9.4" fill="#21505a"/>
<text x="625.4" y="600.8" font-size="13.5" fill="#f2f2ee" text-anchor="middle" font-weight="normal" stroke="#f2f2ee" stroke-width="0.45">¥</text>
<circle cx="617.8" cy="609.2" r="12.0" fill="#fafafa"/>
<circle cx="617.8" cy="609.2" r="11.2" fill="#2a5a62"/>
<circle cx="617.8" cy="609.2" r="9.9" fill="#21505a"/>
<text x="617.8" y="614.5" font-size="15.5" fill="#f2f2ee" text-anchor="middle" font-weight="normal" stroke="#f2f2ee" stroke-width="0.45">$</text>
<text x="963.9" y="598.6" font-size="12.3" fill="#141414" text-anchor="end" textLength="91.5" lengthAdjust="spacingAndGlyphs" >ratele medii, %</text>
<line x1="669.6" y1="620.0" x2="669.6" y2="794.0" stroke="#d8d8d8" stroke-width="0.8" />
<rect x="609" y="621" width="3" height="20" fill="#21505a" />
<text x="606.2" y="635.0" font-size="11.5" fill="#21505a" text-anchor="end" textLength="21.3" lengthAdjust="spacingAndGlyphs" >25,3</text>
<rect x="594" y="646" width="18" height="20" fill="#21505a" />
<text x="590.7" y="660.0" font-size="11.5" fill="#21505a" text-anchor="end" textLength="27.3" lengthAdjust="spacingAndGlyphs" >178,4</text>
<rect x="606" y="671" width="6" height="20" fill="#21505a" />
<text x="603.4" y="685.0" font-size="11.5" fill="#21505a" text-anchor="end" textLength="21.3" lengthAdjust="spacingAndGlyphs" >52,9</text>
<rect x="560" y="696" width="52" height="20" fill="#21505a" />
<text x="563.8" y="710.3" font-size="11.5" fill="#efe6df" textLength="27.3" lengthAdjust="spacingAndGlyphs" >513,9</text>
<rect x="604" y="721" width="8" height="20" fill="#21505a" />
<text x="601.3" y="735.3" font-size="11.5" fill="#21505a" text-anchor="end" textLength="21.3" lengthAdjust="spacingAndGlyphs" >74,5</text>
<rect x="609" y="747" width="3" height="20" fill="#21505a" />
<text x="605.8" y="760.6" font-size="11.5" fill="#21505a" text-anchor="end" textLength="21.3" lengthAdjust="spacingAndGlyphs" >29,3</text>
<rect x="603" y="772" width="9" height="20" fill="#21505a" />
<text x="600.5" y="785.5" font-size="11.5" fill="#21505a" text-anchor="end" textLength="21.3" lengthAdjust="spacingAndGlyphs" >82,3</text>
<text x="631.6" y="634.7" font-size="10.5" fill="#484848" textLength="28.3" lengthAdjust="spacingAndGlyphs" >&gt; 5 ani</text>
<text x="624.9" y="659.7" font-size="10.5" fill="#484848" textLength="35.0" lengthAdjust="spacingAndGlyphs" >2 - 5 ani</text>
<text x="626.4" y="684.7" font-size="10.5" fill="#484848" textLength="33.5" lengthAdjust="spacingAndGlyphs" >1 - 2 ani</text>
<text x="617.7" y="710.0" font-size="10.5" fill="#484848" textLength="42.2" lengthAdjust="spacingAndGlyphs" >6 - 12 luni</text>
<text x="620.9" y="735.0" font-size="10.5" fill="#484848" textLength="39.0" lengthAdjust="spacingAndGlyphs" >3 - 6 luni</text>
<text x="622.5" y="760.3" font-size="10.5" fill="#484848" textLength="37.4" lengthAdjust="spacingAndGlyphs" >1 - 3 luni</text>
<text x="627.4" y="785.2" font-size="10.5" fill="#484848" textLength="32.5" lengthAdjust="spacingAndGlyphs" >&lt; 1 lună</text>
<line x1="798.1" y1="631.5" x2="816.7" y2="631.5" stroke="#a02f2c" stroke-width="1.1" />
<path d="M803.6,628.3 L799.3,631.5 L803.6,634.7" fill="none" stroke="#a02f2c" stroke-width="1"/>
<circle cx="816.7" cy="631.5" r="2.5" fill="#91abb0" stroke="#5b8489" stroke-width="0.8"/>
<circle cx="798.1" cy="631.5" r="3.0" fill="#21505a"/>
<text x="790.1" y="636.1" font-size="12.8" fill="#21505a" text-anchor="end" textLength="24.4" lengthAdjust="spacingAndGlyphs" >0,66</text>
<text x="822.2" y="635.4" font-size="10.8" fill="#2e7682" textLength="21.6" lengthAdjust="spacingAndGlyphs" >0,90</text>
<line x1="871.9" y1="656.5" x2="864.1" y2="656.5" stroke="#2f8a33" stroke-width="1.1" />
<path d="M866.4,653.3 L870.7,656.5 L866.4,659.7" fill="none" stroke="#2f8a33" stroke-width="1"/>
<circle cx="864.1" cy="656.5" r="2.5" fill="#91abb0" stroke="#5b8489" stroke-width="0.8"/>
<circle cx="871.9" cy="656.5" r="3.0" fill="#21505a"/>
<text x="879.9" y="661.1" font-size="12.8" fill="#21505a" textLength="20.1" lengthAdjust="spacingAndGlyphs" >1,61</text>
<text x="858.6" y="660.4" font-size="10.8" fill="#2e7682" text-anchor="end" textLength="18.1" lengthAdjust="spacingAndGlyphs" >1,51</text>
<line x1="895.2" y1="681.5" x2="917.7" y2="681.5" stroke="#a02f2c" stroke-width="1.1" />
<path d="M900.7,678.3 L896.4,681.5 L900.7,684.7" fill="none" stroke="#a02f2c" stroke-width="1"/>
<circle cx="917.7" cy="681.5" r="2.5" fill="#91abb0" stroke="#5b8489" stroke-width="0.8"/>
<circle cx="895.2" cy="681.5" r="3.0" fill="#21505a"/>
<text x="887.2" y="686.1" font-size="12.8" fill="#21505a" text-anchor="end" textLength="20.1" lengthAdjust="spacingAndGlyphs" >1,91</text>
<text x="923.2" y="685.4" font-size="10.8" fill="#2e7682" textLength="21.6" lengthAdjust="spacingAndGlyphs" >2,20</text>
<line x1="861.8" y1="706.5" x2="871.9" y2="706.5" stroke="#a02f2c" stroke-width="1.1" />
<path d="M867.3,703.3 L863.0,706.5 L867.3,709.7" fill="none" stroke="#a02f2c" stroke-width="1"/>
<circle cx="871.9" cy="706.5" r="2.5" fill="#91abb0" stroke="#5b8489" stroke-width="0.8"/>
<circle cx="861.8" cy="706.5" r="3.0" fill="#21505a"/>
<text x="853.8" y="711.1" font-size="12.8" fill="#21505a" text-anchor="end" textLength="22.3" lengthAdjust="spacingAndGlyphs" >1,48</text>
<text x="877.4" y="710.4" font-size="10.8" fill="#2e7682" textLength="18.1" lengthAdjust="spacingAndGlyphs" >1,61</text>
<line x1="832.3" y1="731.5" x2="830.7" y2="731.5" stroke="#2f8a33" stroke-width="1.1" />
<path d="M826.8,728.3 L831.1,731.5 L826.8,734.7" fill="none" stroke="#2f8a33" stroke-width="1"/>
<circle cx="830.7" cy="731.5" r="2.5" fill="#91abb0" stroke="#5b8489" stroke-width="0.8"/>
<circle cx="832.3" cy="731.5" r="3.0" fill="#21505a"/>
<text x="840.3" y="736.1" font-size="12.8" fill="#21505a" textLength="20.1" lengthAdjust="spacingAndGlyphs" >1,10</text>
<text x="825.2" y="735.4" font-size="10.8" fill="#2e7682" text-anchor="end" textLength="19.9" lengthAdjust="spacingAndGlyphs" >1,08</text>
<line x1="807.4" y1="756.5" x2="780.2" y2="756.5" stroke="#2f8a33" stroke-width="1.1" />
<path d="M801.9,753.3 L806.2,756.5 L801.9,759.7" fill="none" stroke="#2f8a33" stroke-width="1"/>
<circle cx="780.2" cy="756.5" r="2.5" fill="#91abb0" stroke="#5b8489" stroke-width="0.8"/>
<circle cx="807.4" cy="756.5" r="3.0" fill="#21505a"/>
<text x="815.4" y="761.1" font-size="12.8" fill="#21505a" textLength="24.4" lengthAdjust="spacingAndGlyphs" >0,78</text>
<text x="774.7" y="760.4" font-size="10.8" fill="#2e7682" text-anchor="end" textLength="21.6" lengthAdjust="spacingAndGlyphs" >0,43</text>
<line x1="750.7" y1="781.5" x2="749.1" y2="781.5" stroke="#2f8a33" stroke-width="1.1" />
<path d="M745.2,778.3 L749.5,781.5 L745.2,784.7" fill="none" stroke="#2f8a33" stroke-width="1"/>
<circle cx="749.1" cy="781.5" r="2.5" fill="#91abb0" stroke="#5b8489" stroke-width="0.8"/>
<circle cx="750.7" cy="781.5" r="3.0" fill="#21505a"/>
<text x="758.7" y="786.1" font-size="12.8" fill="#21505a" textLength="24.4" lengthAdjust="spacingAndGlyphs" >0,05</text>
<text x="743.6" y="785.4" font-size="10.8" fill="#2e7682" text-anchor="end" textLength="21.6" lengthAdjust="spacingAndGlyphs" >0,03</text>
<circle cx="777.3" cy="805.7" r="2.8" fill="#91abb0" stroke="#5b8489" stroke-width="0.6"/>
<text x="783.6" y="809.5" font-size="10.5" fill="#555" textLength="37.6" lengthAdjust="spacingAndGlyphs" >iul. 2024</text>
<circle cx="848.0" cy="805.7" r="2.8" fill="#21505a"/>
<text x="854.7" y="809.5" font-size="10.5" fill="#555" textLength="42.1" lengthAdjust="spacingAndGlyphs" >aug. 2024</text>
<text x="509.0" y="831.2" font-size="11.5" fill="#141414" textLength="171.3" lengthAdjust="spacingAndGlyphs" >* comparativ cu luna precedentă</text>
<text x="1211.5" y="55.2" font-size="15.5" fill="#141414" textLength="239.4" lengthAdjust="spacingAndGlyphs" >Structura depozitelor pe valute</text>
<line x1="1211.5" y1="57.4" x2="1450.9" y2="57.4" stroke="#141414" stroke-width="1.1" />
<text x="996.3" y="75.6" font-size="12.3" fill="#141414" textLength="431.8" lengthAdjust="spacingAndGlyphs" >Depozitele noi atrase de la persoanele juridice în moneda națională și în</text>
<text x="996.3" y="91.9" font-size="12.3" fill="#141414" textLength="126.8" lengthAdjust="spacingAndGlyphs" >valută s-au majorat*.</text>
<rect x="1029" y="106" width="364" height="24" fill="#a8b39d" />
<text x="1156.3" y="122.8" font-size="12.5" fill="#141414" textLength="114.1" lengthAdjust="spacingAndGlyphs" >total 1 164,4 mil. lei</text>
<text x="1273.7" y="122.8" font-size="12.5" fill="#277a2a" textLength="52.6" lengthAdjust="spacingAndGlyphs" >(+36,5%)</text>
<rect x="1029" y="130" width="279" height="24" fill="#5b2722" />
<rect x="1308" y="130" width="85" height="24" fill="#21505a" />
<text x="1150.0" y="146.5" font-size="13" fill="#eee6dc" textLength="35.9" lengthAdjust="spacingAndGlyphs" >76,5%</text>
<text x="1332.2" y="146.5" font-size="13" fill="#eee6dc" textLength="36.4" lengthAdjust="spacingAndGlyphs" >23,5%</text>
<circle cx="1011.9" cy="145.6" r="16" fill="#5b2722"/>
<circle cx="1011.9" cy="145.6" r="13.8" fill="none" stroke="#8a5a54" stroke-width="0.8"/>
<text x="1012.7" y="148.2" font-size="9.8" fill="#f4f0ea" text-anchor="middle" textLength="22.2" lengthAdjust="spacingAndGlyphs" stroke="#f4f0ea" stroke-width="0.55">MDL</text>
<circle cx="1418.7" cy="143.4" r="11.5" fill="#fafafa"/>
<circle cx="1418.7" cy="143.4" r="10.7" fill="#2a5a62"/>
<circle cx="1418.7" cy="143.4" r="9.4" fill="#21505a"/>
<text x="1418.7" y="148.4" font-size="14.5" fill="#f2f2ee" text-anchor="middle" font-weight="normal" stroke="#f2f2ee" stroke-width="0.45">€</text>
<circle cx="1439.8" cy="141.0" r="11.5" fill="#fafafa"/>
<circle cx="1439.8" cy="141.0" r="10.7" fill="#2a5a62"/>
<circle cx="1439.8" cy="141.0" r="9.4" fill="#21505a"/>
<text x="1439.8" y="145.6" font-size="13.5" fill="#f2f2ee" text-anchor="middle" font-weight="normal" stroke="#f2f2ee" stroke-width="0.45">¥</text>
<circle cx="1432.2" cy="154.0" r="12.0" fill="#fafafa"/>
<circle cx="1432.2" cy="154.0" r="11.2" fill="#2a5a62"/>
<circle cx="1432.2" cy="154.0" r="9.9" fill="#21505a"/>
<text x="1432.2" y="159.3" font-size="15.5" fill="#f2f2ee" text-anchor="middle" font-weight="normal" stroke="#f2f2ee" stroke-width="0.45">$</text>
<text x="1030.4" y="172.3" font-size="10.5" fill="#141414" textLength="29.3" lengthAdjust="spacingAndGlyphs" >mil. lei</text>
<text x="1237.9" y="170.3" font-size="10.5" fill="#141414" textLength="29.9" lengthAdjust="spacingAndGlyphs" >mil. lei</text>
<text x="1023.9" y="191.7" font-size="10.5" fill="#5e5e5e" text-anchor="end" textLength="42.3" lengthAdjust="spacingAndGlyphs" >aug. 2024</text>
<text x="1023.9" y="212.9" font-size="10.5" fill="#5e5e5e" text-anchor="end" textLength="37.4" lengthAdjust="spacingAndGlyphs" >iul. 2024</text>
<text x="1023.9" y="235.5" font-size="10.5" fill="#5e5e5e" text-anchor="end" textLength="40.6" lengthAdjust="spacingAndGlyphs" >dinamica</text>
<rect x="1033" y="179" width="51" height="19" fill="#5b2722" />
<rect x="1033" y="200" width="36" height="20" fill="#a1807b" />
<text x="1081.8" y="191.5" font-size="11.5" fill="#f3ebe6" text-anchor="end" textLength="28.6" lengthAdjust="spacingAndGlyphs" >890,7</text>
<text x="1067.8" y="213.0" font-size="11.5" fill="#f3ebe6" text-anchor="end" textLength="27.6" lengthAdjust="spacingAndGlyphs" >628,3</text>
<rect x="1237" y="176" width="15" height="20" fill="#21505a" />
<rect x="1237" y="198" width="13" height="18" fill="#7e9ba0" />
<text x="1255.8" y="189.5" font-size="11" fill="#21505a" textLength="25.0" lengthAdjust="spacingAndGlyphs" >273,7</text>
<text x="1254.8" y="213.9" font-size="11" fill="#21505a" textLength="27.6" lengthAdjust="spacingAndGlyphs" >224,9</text>
<line x1="1119.2" y1="231.7" x2="1156.0" y2="231.7" stroke="#277a2a" stroke-width="1.5" />
<path d="M1151.5,228 L1157.2,231.7 L1151.5,235.4" fill="none" stroke="#277a2a" stroke-width="1.6"/>
<text x="1161.0" y="234.0" font-size="13" fill="#277a2a" textLength="42.7" lengthAdjust="spacingAndGlyphs" >+41,8%</text>
<path d="M1270,225 L1278,229.2 L1270,233.4 L1273,229.2 Z" fill="#277a2a" stroke="#277a2a" stroke-width="0.6" stroke-linejoin="round"/>
<text x="1284.0" y="231.7" font-size="13" fill="#277a2a" textLength="39.7" lengthAdjust="spacingAndGlyphs" >+21,7%</text>
<text x="1283.9" y="268.2" font-size="15.5" fill="#141414" textLength="162.6" lengthAdjust="spacingAndGlyphs" >Depozite pe scadențe</text>
<line x1="1283.9" y1="270.4" x2="1446.5" y2="270.4" stroke="#141414" stroke-width="1.1" />
<text x="989.7" y="293.4" font-size="12.3" fill="#141414" textLength="415.0" lengthAdjust="spacingAndGlyphs" >Persoanele juridice, în mare parte, au plasat mijloacele lor în moneda</text>
<text x="989.7" y="309.7" font-size="12.3" fill="#141414" textLength="433.6" lengthAdjust="spacingAndGlyphs" >națională pe conturile de depozit cu termenul de până la o lună și cele în</text>
<text x="989.7" y="325.1" font-size="12.3" fill="#141414" textLength="257.4" lengthAdjust="spacingAndGlyphs" >valută cu termene de la 6 luni până la 2 ani.</text>
<text x="990.8" y="357.3" font-size="12.3" fill="#141414" textLength="84.1" lengthAdjust="spacingAndGlyphs" >volum, mil. lei</text>
<circle cx="1110.9" cy="358.4" r="16" fill="#5b2722"/>
<circle cx="1110.9" cy="358.4" r="13.8" fill="none" stroke="#8a5a54" stroke-width="0.8"/>
<text x="1111.7" y="361.0" font-size="9.8" fill="#f4f0ea" text-anchor="middle" textLength="22.2" lengthAdjust="spacingAndGlyphs" stroke="#f4f0ea" stroke-width="0.55">MDL</text>
<text x="1449.2" y="351.5" font-size="12.3" fill="#141414" text-anchor="end" textLength="91.7" lengthAdjust="spacingAndGlyphs" >ratele medii, %</text>
<line x1="1153.4" y1="380.5" x2="1153.4" y2="550.8" stroke="#d8d8d8" stroke-width="0.8" />
<rect x="1096" y="382" width="2" height="20" fill="#5b2722" />
<text x="1094.5" y="396.1" font-size="11.5" fill="#444" text-anchor="end" textLength="15.2" lengthAdjust="spacingAndGlyphs" >6,4</text>
<rect x="1079" y="406" width="19" height="20" fill="#5b2722" />
<text x="1076.6" y="420.1" font-size="11.5" fill="#444" text-anchor="end" textLength="27.3" lengthAdjust="spacingAndGlyphs" >158,2</text>
<rect x="1096" y="430" width="2" height="20" fill="#5b2722" />
<text x="1094.5" y="444.5" font-size="11.5" fill="#444" text-anchor="end" textLength="15.2" lengthAdjust="spacingAndGlyphs" >0,6</text>
<rect x="1086" y="455" width="12" height="20" fill="#5b2722" />
<text x="1083.6" y="468.9" font-size="11.5" fill="#444" text-anchor="end" textLength="21.3" lengthAdjust="spacingAndGlyphs" >99,8</text>
<rect x="1096" y="480" width="2" height="20" fill="#5b2722" />
<text x="1094.5" y="493.7" font-size="11.5" fill="#444" text-anchor="end" textLength="15.2" lengthAdjust="spacingAndGlyphs" >5,0</text>
<rect x="1095" y="503" width="3" height="20" fill="#5b2722" />
<text x="1093.1" y="517.3" font-size="11.5" fill="#444" text-anchor="end" textLength="21.3" lengthAdjust="spacingAndGlyphs" >21,8</text>
<rect x="1025" y="528" width="73" height="20" fill="#5b2722" />
<text x="1029.3" y="542.1" font-size="11.5" fill="#efe6df" textLength="27.3" lengthAdjust="spacingAndGlyphs" >598,9</text>
<text x="1116.2" y="395.8" font-size="10.5" fill="#484848" textLength="28.3" lengthAdjust="spacingAndGlyphs" >&gt; 5 ani</text>
<text x="1109.5" y="419.8" font-size="10.5" fill="#484848" textLength="35.0" lengthAdjust="spacingAndGlyphs" >2 - 5 ani</text>
<text x="1111.0" y="444.2" font-size="10.5" fill="#484848" textLength="33.5" lengthAdjust="spacingAndGlyphs" >1 - 2 ani</text>
<text x="1102.3" y="468.6" font-size="10.5" fill="#484848" textLength="42.2" lengthAdjust="spacingAndGlyphs" >6 - 12 luni</text>
<text x="1105.5" y="493.4" font-size="10.5" fill="#484848" textLength="39.0" lengthAdjust="spacingAndGlyphs" >3 - 6 luni</text>
<text x="1107.1" y="517.0" font-size="10.5" fill="#484848" textLength="37.4" lengthAdjust="spacingAndGlyphs" >1 - 3 luni</text>
<text x="1112.0" y="541.8" font-size="10.5" fill="#484848" textLength="32.5" lengthAdjust="spacingAndGlyphs" >&lt; 1 lună</text>
<line x1="1241.5" y1="392.5" x2="1292.3" y2="392.5" stroke="#a02f2c" stroke-width="1.1" />
<path d="M1247.0,389.3 L1242.7,392.5 L1247.0,395.7" fill="none" stroke="#a02f2c" stroke-width="1"/>
<circle cx="1292.3" cy="392.5" r="2.5" fill="#b89893" stroke="#8d6964" stroke-width="0.8"/>
<circle cx="1241.5" cy="392.5" r="3.0" fill="#5b2722"/>
<text x="1236.0" y="397.1" font-size="12.8" fill="#3d3d3d" text-anchor="end" textLength="22.3" lengthAdjust="spacingAndGlyphs" >1,22</text>
<text x="1296.8" y="396.4" font-size="10.8" fill="#3d3d3d" textLength="21.6" lengthAdjust="spacingAndGlyphs" >2,50</text>
<line x1="1357.5" y1="416.5" x2="1328.9" y2="416.5" stroke="#2f8a33" stroke-width="1.1" />
<path d="M1352.0,413.3 L1356.3,416.5 L1352.0,419.7" fill="none" stroke="#2f8a33" stroke-width="1"/>
<circle cx="1328.9" cy="416.5" r="2.5" fill="#b89893" stroke="#8d6964" stroke-width="0.8"/>
<circle cx="1357.5" cy="416.5" r="3.0" fill="#5b2722"/>
<text x="1363.0" y="421.1" font-size="12.8" fill="#3d3d3d" textLength="22.3" lengthAdjust="spacingAndGlyphs" >4,14</text>
<text x="1324.4" y="420.4" font-size="10.8" fill="#3d3d3d" text-anchor="end" textLength="21.6" lengthAdjust="spacingAndGlyphs" >3,42</text>
<line x1="1322.1" y1="440.5" x2="1322.1" y2="440.5" stroke="#a02f2c" stroke-width="1.1" />
<path d="M1327.6,437.3 L1323.3,440.5 L1327.6,443.7" fill="none" stroke="#a02f2c" stroke-width="1"/>
<circle cx="1322.1" cy="440.5" r="2.5" fill="#b89893" stroke="#8d6964" stroke-width="0.8"/>
<circle cx="1322.1" cy="440.5" r="3.0" fill="#5b2722"/>
<text x="1316.6" y="445.1" font-size="12.8" fill="#3d3d3d" text-anchor="end" textLength="24.4" lengthAdjust="spacingAndGlyphs" >3,25</text>
<text x="1326.6" y="444.4" font-size="10.8" fill="#3d3d3d" textLength="21.6" lengthAdjust="spacingAndGlyphs" >3,25</text>
<line x1="1286.8" y1="464.5" x2="1301.1" y2="464.5" stroke="#a02f2c" stroke-width="1.1" />
<path d="M1292.3,461.3 L1288.0,464.5 L1292.3,467.7" fill="none" stroke="#a02f2c" stroke-width="1"/>
<circle cx="1301.1" cy="464.5" r="2.5" fill="#b89893" stroke="#8d6964" stroke-width="0.8"/>
<circle cx="1286.8" cy="464.5" r="3.0" fill="#5b2722"/>
<text x="1281.3" y="469.1" font-size="12.8" fill="#3d3d3d" text-anchor="end" textLength="24.4" lengthAdjust="spacingAndGlyphs" >2,36</text>
<text x="1305.6" y="468.4" font-size="10.8" fill="#3d3d3d" textLength="21.6" lengthAdjust="spacingAndGlyphs" >2,72</text>
<line x1="1271.7" y1="489.5" x2="1276.1" y2="489.5" stroke="#a02f2c" stroke-width="1.1" />
<path d="M1277.2,486.3 L1272.9,489.5 L1277.2,492.7" fill="none" stroke="#a02f2c" stroke-width="1"/>
<circle cx="1276.1" cy="489.5" r="2.5" fill="#b89893" stroke="#8d6964" stroke-width="0.8"/>
<circle cx="1271.7" cy="489.5" r="3.0" fill="#5b2722"/>
<text x="1266.2" y="494.1" font-size="12.8" fill="#3d3d3d" text-anchor="end" textLength="22.3" lengthAdjust="spacingAndGlyphs" >1,98</text>
<text x="1280.6" y="493.4" font-size="10.8" fill="#3d3d3d" textLength="21.6" lengthAdjust="spacingAndGlyphs" >2,09</text>
<line x1="1282.4" y1="513.5" x2="1271.3" y2="513.5" stroke="#2f8a33" stroke-width="1.1" />
<path d="M1276.9,510.3 L1281.2,513.5 L1276.9,516.7" fill="none" stroke="#2f8a33" stroke-width="1"/>
<circle cx="1271.3" cy="513.5" r="2.5" fill="#b89893" stroke="#8d6964" stroke-width="0.8"/>
<circle cx="1282.4" cy="513.5" r="3.0" fill="#5b2722"/>
<text x="1287.9" y="518.1" font-size="12.8" fill="#3d3d3d" textLength="24.4" lengthAdjust="spacingAndGlyphs" >2,25</text>
<text x="1266.8" y="517.4" font-size="10.8" fill="#3d3d3d" text-anchor="end" textLength="19.9" lengthAdjust="spacingAndGlyphs" >1,97</text>
<line x1="1306.6" y1="538.5" x2="1216.9" y2="538.5" stroke="#2f8a33" stroke-width="1.1" />
<path d="M1301.1,535.3 L1305.4,538.5 L1301.1,541.7" fill="none" stroke="#2f8a33" stroke-width="1"/>
<circle cx="1216.9" cy="538.5" r="2.5" fill="#b89893" stroke="#8d6964" stroke-width="0.8"/>
<circle cx="1306.6" cy="538.5" r="3.0" fill="#5b2722"/>
<text x="1312.1" y="543.1" font-size="12.8" fill="#3d3d3d" textLength="24.4" lengthAdjust="spacingAndGlyphs" >2,86</text>
<text x="1212.4" y="542.4" font-size="10.8" fill="#3d3d3d" text-anchor="end" textLength="21.6" lengthAdjust="spacingAndGlyphs" >0,60</text>
<circle cx="1249.8" cy="557.6" r="2.8" fill="#b89893" stroke="#8d6964" stroke-width="0.6"/>
<text x="1256.1" y="561.4" font-size="10.5" fill="#555" textLength="37.6" lengthAdjust="spacingAndGlyphs" >iul. 2024</text>
<circle cx="1327.3" cy="557.6" r="2.8" fill="#5b2722"/>
<text x="1334.0" y="561.4" font-size="10.5" fill="#555" textLength="42.1" lengthAdjust="spacingAndGlyphs" >aug. 2024</text>
<text x="990.4" y="597.6" font-size="12.3" fill="#141414" textLength="83.3" lengthAdjust="spacingAndGlyphs" >volum, mil. lei</text>
<circle cx="1096.7" cy="595.5" r="11.5" fill="#fafafa"/>
<circle cx="1096.7" cy="595.5" r="10.7" fill="#2a5a62"/>
<circle cx="1096.7" cy="595.5" r="9.4" fill="#21505a"/>
<text x="1096.7" y="600.5" font-size="14.5" fill="#f2f2ee" text-anchor="middle" font-weight="normal" stroke="#f2f2ee" stroke-width="0.45">€</text>
<circle cx="1117.8" cy="593.1" r="11.5" fill="#fafafa"/>
<circle cx="1117.8" cy="593.1" r="10.7" fill="#2a5a62"/>
<circle cx="1117.8" cy="593.1" r="9.4" fill="#21505a"/>
<text x="1117.8" y="597.7" font-size="13.5" fill="#f2f2ee" text-anchor="middle" font-weight="normal" stroke="#f2f2ee" stroke-width="0.45">¥</text>
<circle cx="1110.2" cy="606.1" r="12.0" fill="#fafafa"/>
<circle cx="1110.2" cy="606.1" r="11.2" fill="#2a5a62"/>
<circle cx="1110.2" cy="606.1" r="9.9" fill="#21505a"/>
<text x="1110.2" y="611.4" font-size="15.5" fill="#f2f2ee" text-anchor="middle" font-weight="normal" stroke="#f2f2ee" stroke-width="0.45">$</text>
<text x="1446.0" y="600.9" font-size="12.3" fill="#141414" text-anchor="end" textLength="92.0" lengthAdjust="spacingAndGlyphs" >ratele medii, %</text>
<line x1="1154.6" y1="610.7" x2="1154.6" y2="784.6" stroke="#d8d8d8" stroke-width="0.8" />
<rect x="1098" y="612" width="1" height="20" fill="#21505a" />
<text x="1095.3" y="626.0" font-size="11.5" fill="#21505a" text-anchor="end" textLength="15.2" lengthAdjust="spacingAndGlyphs" >2,9</text>
<rect x="1091" y="637" width="8" height="20" fill="#21505a" />
<text x="1088.9" y="651.0" font-size="11.5" fill="#21505a" text-anchor="end" textLength="21.3" lengthAdjust="spacingAndGlyphs" >58,8</text>
<rect x="1086" y="662" width="13" height="20" fill="#21505a" />
<text x="1083.2" y="676.1" font-size="11.5" fill="#21505a" text-anchor="end" textLength="27.3" lengthAdjust="spacingAndGlyphs" >103,4</text>
<rect x="1086" y="687" width="13" height="20" fill="#21505a" />
<text x="1083.4" y="701.2" font-size="11.5" fill="#21505a" text-anchor="end" textLength="27.3" lengthAdjust="spacingAndGlyphs" >102,0</text>
<rect x="1098" y="712" width="1" height="20" fill="#21505a" />
<text x="1095.3" y="725.9" font-size="11.5" fill="#21505a" text-anchor="end" textLength="15.2" lengthAdjust="spacingAndGlyphs" >5,2</text>
<rect x="1098" y="737" width="1" height="20" fill="#21505a" />
<text x="1095.3" y="750.6" font-size="11.5" fill="#21505a" text-anchor="end" textLength="15.2" lengthAdjust="spacingAndGlyphs" >1,4</text>
<text x="1116.6" y="625.7" font-size="10.5" fill="#484848" textLength="28.3" lengthAdjust="spacingAndGlyphs" >&gt; 5 ani</text>
<text x="1109.9" y="650.7" font-size="10.5" fill="#484848" textLength="35.0" lengthAdjust="spacingAndGlyphs" >2 - 5 ani</text>
<text x="1111.4" y="675.8" font-size="10.5" fill="#484848" textLength="33.5" lengthAdjust="spacingAndGlyphs" >1 - 2 ani</text>
<text x="1102.7" y="700.9" font-size="10.5" fill="#484848" textLength="42.2" lengthAdjust="spacingAndGlyphs" >6 - 12 luni</text>
<text x="1105.9" y="725.6" font-size="10.5" fill="#484848" textLength="39.0" lengthAdjust="spacingAndGlyphs" >3 - 6 luni</text>
<text x="1107.5" y="750.3" font-size="10.5" fill="#484848" textLength="37.4" lengthAdjust="spacingAndGlyphs" >1 - 3 luni</text>
<text x="1112.4" y="776.0" font-size="10.5" fill="#484848" textLength="32.5" lengthAdjust="spacingAndGlyphs" >&lt; 1 lună</text>
<circle cx="1199.0" cy="622.5" r="3.0" fill="#21505a"/>
<text x="1204.0" y="627.1" font-size="12.8" fill="#21505a" textLength="24.4" lengthAdjust="spacingAndGlyphs" >0,83</text>
<line x1="1275.0" y1="647.5" x2="1284.8" y2="647.5" stroke="#a02f2c" stroke-width="1.1" />
<path d="M1280.5,644.3 L1276.2,647.5 L1280.5,650.7" fill="none" stroke="#a02f2c" stroke-width="1"/>
<circle cx="1284.8" cy="647.5" r="2.5" fill="#91abb0" stroke="#5b8489" stroke-width="0.8"/>
<circle cx="1275.0" cy="647.5" r="3.0" fill="#21505a"/>
<text x="1270.0" y="652.1" font-size="12.8" fill="#21505a" text-anchor="end" textLength="24.4" lengthAdjust="spacingAndGlyphs" >2,23</text>
<text x="1288.8" y="651.4" font-size="10.8" fill="#2e7682" textLength="19.9" lengthAdjust="spacingAndGlyphs" >2,41</text>
<line x1="1254.4" y1="672.5" x2="1262.5" y2="672.5" stroke="#a02f2c" stroke-width="1.1" />
<path d="M1259.9,669.3 L1255.6,672.5 L1259.9,675.7" fill="none" stroke="#a02f2c" stroke-width="1"/>
<circle cx="1262.5" cy="672.5" r="2.5" fill="#91abb0" stroke="#5b8489" stroke-width="0.8"/>
<circle cx="1254.4" cy="672.5" r="3.0" fill="#21505a"/>
<text x="1249.4" y="677.1" font-size="12.8" fill="#21505a" text-anchor="end" textLength="22.3" lengthAdjust="spacingAndGlyphs" >1,85</text>
<text x="1266.5" y="676.4" font-size="10.8" fill="#2e7682" textLength="21.6" lengthAdjust="spacingAndGlyphs" >2,00</text>
<line x1="1190.8" y1="697.5" x2="1218.0" y2="697.5" stroke="#a02f2c" stroke-width="1.1" />
<path d="M1196.3,694.3 L1192.0,697.5 L1196.3,700.7" fill="none" stroke="#a02f2c" stroke-width="1"/>
<circle cx="1218.0" cy="697.5" r="2.5" fill="#91abb0" stroke="#5b8489" stroke-width="0.8"/>
<circle cx="1190.8" cy="697.5" r="3.0" fill="#21505a"/>
<text x="1185.8" y="702.1" font-size="12.8" fill="#21505a" text-anchor="end" textLength="24.4" lengthAdjust="spacingAndGlyphs" >0,68</text>
<text x="1222.0" y="701.4" font-size="10.8" fill="#2e7682" textLength="18.1" lengthAdjust="spacingAndGlyphs" >1,18</text>
<line x1="1235.4" y1="721.5" x2="1226.7" y2="721.5" stroke="#2f8a33" stroke-width="1.1" />
<path d="M1229.9,718.3 L1234.2,721.5 L1229.9,724.7" fill="none" stroke="#2f8a33" stroke-width="1"/>
<circle cx="1226.7" cy="721.5" r="2.5" fill="#91abb0" stroke="#5b8489" stroke-width="0.8"/>
<circle cx="1235.4" cy="721.5" r="3.0" fill="#21505a"/>
<text x="1240.4" y="726.1" font-size="12.8" fill="#21505a" textLength="22.3" lengthAdjust="spacingAndGlyphs" >1,50</text>
<text x="1222.7" y="725.4" font-size="10.8" fill="#2e7682" text-anchor="end" textLength="19.9" lengthAdjust="spacingAndGlyphs" >1,34</text>
<circle cx="1181.1" cy="746.5" r="3.0" fill="#21505a"/>
<text x="1186.1" y="751.1" font-size="12.8" fill="#21505a" textLength="24.4" lengthAdjust="spacingAndGlyphs" >0,50</text>
<circle cx="1251.5" cy="804.2" r="2.8" fill="#91abb0" stroke="#5b8489" stroke-width="0.6"/>
<text x="1257.8" y="808.0" font-size="10.5" fill="#555" textLength="37.6" lengthAdjust="spacingAndGlyphs" >iul. 2024</text>
<circle cx="1319.2" cy="804.2" r="2.8" fill="#21505a"/>
<text x="1325.9" y="808.0" font-size="10.5" fill="#555" textLength="42.1" lengthAdjust="spacingAndGlyphs" >aug. 2024</text>
<text x="996.3" y="828.3" font-size="11.5" fill="#141414" textLength="171.7" lengthAdjust="spacingAndGlyphs" >* comparativ cu luna precedentă</text>
</svg>
</body></html>
